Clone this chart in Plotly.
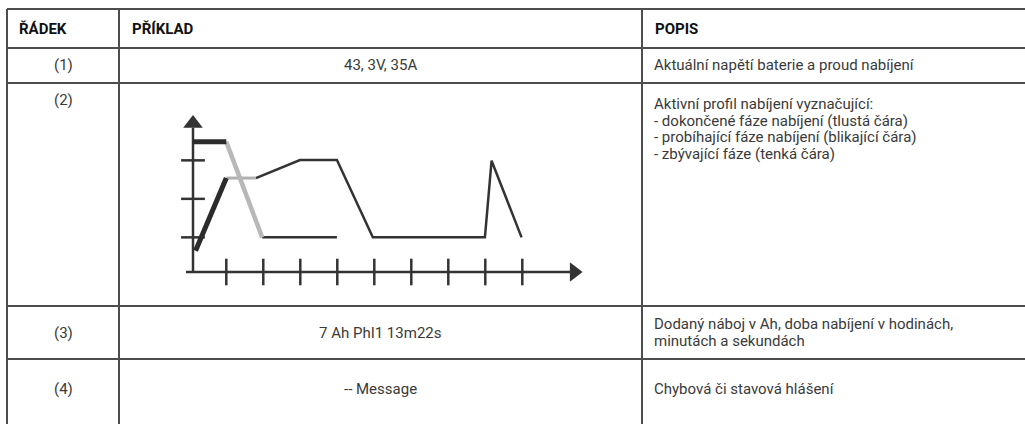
import plotly.graph_objects as go

W, H = 1025, 424

# ---------------- table content ----------------
headers = ["ŘÁDEK", "PŘÍKLAD", "POPIS"]
row_ids = ["(1)", "(2)", "(3)", "(4)"]
examples = ["43, 3V, 35A", "", "7 Ah PhI1 13m22s", "-- Message"]
descriptions = [
    ["Aktuální napětí baterie a proud nabíjení"],
    ["Aktivní profil nabíjení vyznačující:",
     "- dokončené fáze nabíjení (tlustá čára)",
     "- probíhající fáze nabíjení (blikající čára)",
     "- zbývající fáze (tenká čára)"],
    ["Dodaný náboj v Ah, doba nabíjení v hodinách,",
     "minutách a sekundách"],
    ["Chybová či stavová hlášení"],
]

# ---------------- charging profile data (chart units) ----------------
done_top_x = [0.1, 1.0]
done_top_y = [3.48, 3.48]
done_rise_x = [0.17, 1.0]
done_rise_y = [0.65, 2.54]
active_fall_x = [1.0, 1.97]
active_fall_y = [3.48, 1.0]
active_flat_x = [1.0, 1.8]
active_flat_y = [2.54, 2.54]
remain_a_x = [1.97, 3.99]
remain_a_y = [1.0, 1.0]
remain_b_x = [1.8, 2.99, 3.99, 4.96, 7.99, 8.17, 8.98]
remain_b_y = [2.54, 3.01, 3.01, 1.0, 1.0, 2.99, 1.0]
x_ticks = [1, 2, 3, 4, 5, 6, 7, 8, 9]
y_ticks = [1, 2, 3]
ORIGIN = 0.1
X_AXIS_END = 10.3
Y_AXIS_END = 3.85

# ---------------- layout geometry (pixels) ----------------
col_edges = [7, 119, 642, 1025]
row_edges = [9, 48, 83, 306, 359, 440]
LINE_COLOR = "#4d4d4d"
TEXT_COLOR = "#3a3a3a"
FONT = "Roboto"
FS = 15

def px(x):
    return x / W

def py(y):
    return 1 - y / H

fig = go.Figure()

shapes = []
for y in row_edges[:-1]:
    shapes.append(dict(type="line", xref="paper", yref="paper",
                       x0=px(col_edges[0]), x1=px(col_edges[-1]),
                       y0=py(y), y1=py(y),
                       line=dict(color=LINE_COLOR, width=2)))
for x in col_edges[:-1]:
    shapes.append(dict(type="line", xref="paper", yref="paper",
                       x0=px(x), x1=px(x),
                       y0=py(row_edges[0]), y1=py(row_edges[-1]),
                       line=dict(color=LINE_COLOR, width=2)))

annotations = []

def add_text(x, y, text, bold=False, xanchor="left", size=FS):
    annotations.append(dict(
        xref="paper", yref="paper", x=px(x), y=py(y), text=text,
        showarrow=False, xanchor=xanchor, yanchor="middle",
        font=dict(family=FONT, size=size, color="#111111" if bold else TEXT_COLOR,
                  weight="bold" if bold else "normal")))

hy = (row_edges[0] + row_edges[1]) / 2
add_text(col_edges[0] + 10, hy, headers[0], bold=True, size=15)
add_text(col_edges[1] + 11, hy, headers[1], bold=True, size=15)
add_text(col_edges[2] + 11, hy, headers[2], bold=True, size=15)

c1 = (col_edges[0] + col_edges[1]) / 2
c2 = (col_edges[1] + col_edges[2]) / 2
LINE_H = 16.5
row_text_y = [65, 100, 333, 389]
desc_start_y = [65, 104, 324, 389]
for i in range(4):
    add_text(c1, row_text_y[i], row_ids[i], xanchor="center")
    if examples[i]:
        add_text(c2, row_text_y[i], examples[i], xanchor="center")
    for j, line in enumerate(descriptions[i]):
        add_text(col_edges[2] + 10, desc_start_y[i] + j * LINE_H, line)

# ---------------- chart ----------------
dom_x0, dom_x1 = 150, 600
dom_y0, dom_y1 = 300, 95
sx, sy = 37.0, 38.5
xr = [ORIGIN + (dom_x0 - 193) / sx, ORIGIN + (dom_x1 - 193) / sx]
yr = [ORIGIN + (272 - dom_y0) / sy, ORIGIN + (272 - dom_y1) / sy]

AX = "#333333"
fig.add_trace(go.Scatter(x=[-0.09, X_AXIS_END], y=[ORIGIN, ORIGIN], mode="lines",
                         line=dict(color=AX, width=2.5), hoverinfo="skip"))
fig.add_trace(go.Scatter(x=[ORIGIN, ORIGIN], y=[ORIGIN, Y_AXIS_END], mode="lines",
                         line=dict(color=AX, width=2.5), hoverinfo="skip"))
fig.add_trace(go.Scatter(x=x_ticks, y=[ORIGIN] * len(x_ticks), mode="markers",
                         marker=dict(symbol="line-ns", size=19,
                                     line=dict(color=AX, width=2.5)), hoverinfo="skip"))
fig.add_trace(go.Scatter(x=[ORIGIN] * len(y_ticks), y=y_ticks, mode="markers",
                         marker=dict(symbol="line-ew", size=17,
                                     line=dict(color=AX, width=2.5)), hoverinfo="skip"))
fig.add_trace(go.Scatter(x=[X_AXIS_END + 0.1], y=[ORIGIN], mode="markers",
                         marker=dict(symbol="triangle-right", size=17, color=AX), hoverinfo="skip"))
fig.add_trace(go.Scatter(x=[ORIGIN], y=[Y_AXIS_END + 0.11], mode="markers",
                         marker=dict(symbol="triangle-up", size=17, color=AX), hoverinfo="skip"))

fig.add_trace(go.Scatter(x=remain_a_x, y=remain_a_y, mode="lines",
                         line=dict(color="#333333", width=2.5), hoverinfo="skip"))
fig.add_trace(go.Scatter(x=remain_b_x, y=remain_b_y, mode="lines",
                         line=dict(color="#333333", width=2.5), hoverinfo="skip"))
fig.add_trace(go.Scatter(x=active_flat_x, y=active_flat_y, mode="lines",
                         line=dict(color="#b0b0b0", width=3), hoverinfo="skip"))
fig.add_trace(go.Scatter(x=active_fall_x, y=active_fall_y, mode="lines",
                         line=dict(color="#b8b8b8", width=4.5), hoverinfo="skip"))
fig.add_trace(go.Scatter(x=done_top_x, y=done_top_y, mode="lines",
                         line=dict(color="#2b2b2b", width=5), hoverinfo="skip"))
fig.add_trace(go.Scatter(x=done_rise_x, y=done_rise_y, mode="lines",
                         line=dict(color="#2b2b2b", width=5), hoverinfo="skip"))

fig.update_layout(
    width=W, height=H,
    margin=dict(l=0, r=0, t=0, b=0),
    paper_bgcolor="white", plot_bgcolor="white",
    showlegend=False,
    shapes=shapes,
    annotations=annotations,
    xaxis=dict(domain=[px(dom_x0), px(dom_x1)], range=xr, visible=False, fixedrange=True),
    yaxis=dict(domain=[py(dom_y0), py(dom_y1)], range=yr, visible=False, fixedrange=True),
)

fig.write_html("out.html", config={"displayModeBar": False},
               post_script="document.body.style.margin='0';document.body.style.overflow='hidden';")
